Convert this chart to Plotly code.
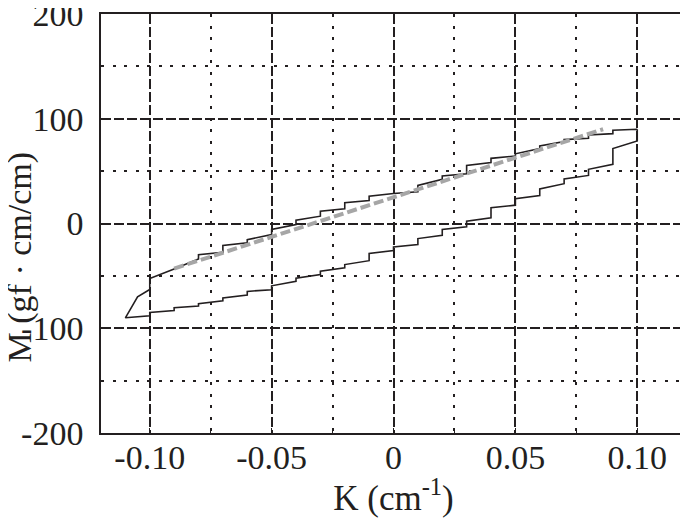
import plotly.graph_objects as go

# hysteresis loop (K in 1/cm, M in gf*cm/cm)
upper_k = [-0.100, -0.090, -0.080, -0.080, -0.070, -0.070, -0.060, -0.060, -0.050, -0.050,
           -0.040, -0.040, -0.030, -0.030, -0.020, -0.020, -0.010, -0.010, 0.000, 0.010,
           0.010, 0.020, 0.020, 0.030, 0.030, 0.040, 0.040, 0.050, 0.050, 0.060,
           0.060, 0.070, 0.070, 0.080, 0.080, 0.090, 0.090, 0.100]
upper_m = [-52.6, -43.4, -33.8, -29.7, -27.4, -21.0, -18.5, -15.5, -10.5, -5.7,
           -1.0, 3.2, 7.0, 11.8, 14.0, 19.8, 22.0, 26.1, 28.7, 30.3,
           36.4, 42.1, 45.3, 47.5, 55.5, 58.1, 62.2, 64.4, 66.5, 71.5,
           74.0, 78.2, 80.1, 81.3, 84.5, 85.8, 89.0, 90.0]

tip_k = [-0.100, -0.105, -0.110, -0.100]
tip_m = [-63.0, -70.0, -90.0, -88.0]

lower_k = [-0.100, -0.090, -0.090, -0.080, -0.080, -0.070, -0.070, -0.060, -0.060, -0.050,
           -0.050, -0.040, -0.040, -0.030, -0.030, -0.020, -0.020, -0.010, -0.010, 0.000,
           0.000, 0.010, 0.010, 0.020, 0.020, 0.030, 0.030, 0.040, 0.040, 0.050,
           0.050, 0.060, 0.060, 0.070, 0.070, 0.080, 0.080, 0.090, 0.090, 0.100, 0.100]
lower_m = [-85.0, -83.0, -80.4, -78.8, -76.6, -73.7, -71.1, -68.3, -64.8, -63.2,
           -59.5, -55.2, -52.3, -48.8, -45.6, -42.4, -39.2, -35.5, -28.7, -25.8,
           -22.3, -20.1, -14.4, -11.2, -5.7, -3.2, 2.2, 5.4, 15.0, 17.5,
           23.6, 26.8, 33.0, 38.0, 42.5, 45.9, 51.7, 56.5, 71.5, 78.8, 90.0]

# straight fit line (grey dashed)
fit_k = [-0.090, 0.086]
fit_m = [-43.0, 90.0]

x_tickvals = [-0.10, -0.05, 0.0, 0.05, 0.10]
x_ticktext = ['-0.10', '-0.05', '0', '0.05', '0.10']
x_minor = [-0.075, -0.025, 0.025, 0.075]
y_tickvals = [-200, -100, 0, 100, 200]
y_ticktext = ['-200', '-100', '0', '100', '200']
y_minor = [-150, -50, 50, 150]

loop_k = upper_k[::-1] + tip_k + lower_k
loop_m = upper_m[::-1] + tip_m + lower_m

FONT = 'Liberation Serif'
INK = '#231f20'

fig = go.Figure()
fig.add_trace(go.Scatter(x=loop_k, y=loop_m, mode='lines',
                         line=dict(color=INK, width=1.6), showlegend=False))
fig.add_trace(go.Scatter(x=fit_k, y=fit_m, mode='lines',
                         line=dict(color='#a6a6a6', width=4, dash='10px,4px'),
                         showlegend=False))

axis_common = dict(
    showline=True, linecolor=INK, linewidth=1.5, mirror=True,
    showgrid=True, gridcolor=INK, gridwidth=1.5, griddash='10px,3px',
    ticks='inside', ticklen=5, tickcolor=INK,
    zeroline=False, tickfont=dict(family=FONT, size=34, color=INK),
    ticklabeloverflow='allow',
)
minor_common = dict(showgrid=True, gridcolor=INK, gridwidth=1.5, griddash='3px,8.5px',
                    ticks='inside', ticklen=3, tickcolor=INK, tickmode='array')

fig.update_xaxes(
    range=[-0.12, 0.12], tickvals=x_tickvals, ticktext=x_ticktext,
    minor=dict(tickvals=x_minor, **minor_common),
    title_text='K (cm<sup>-1</sup>)', title_standoff=0, ticklabelstandoff=-7,
    title_font=dict(family=FONT, size=35, color=INK),
    **axis_common)
fig.update_yaxes(
    range=[-200, 200], tickvals=y_tickvals, ticktext=y_ticktext,
    minor=dict(tickvals=y_minor, **minor_common),
    ticklabelstandoff=9,
    **axis_common)

# y title as an annotation so it can sit closer to the edge than the axis title allows
fig.add_annotation(text='M (gf · cm/cm)', xref='paper', yref='paper',
                   x=-0.1393, y=0.4201, xanchor='center', yanchor='middle',
                   textangle=-90, showarrow=False,
                   font=dict(family=FONT, size=34, color=INK))

# the page puts the chart 8px in from the top-left corner
fig.update_layout(
    width=680, height=510,
    margin=dict(l=93, r=2, t=6, b=85, autoexpand=False),
    paper_bgcolor='white', plot_bgcolor='white',
)

fig.write_html("out.html")
